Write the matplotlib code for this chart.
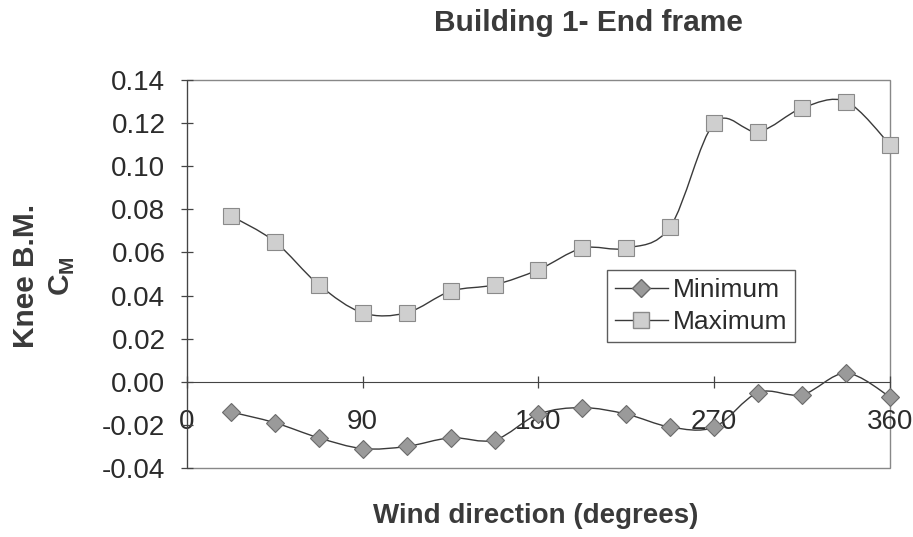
import numpy as np
import matplotlib
matplotlib.use('Agg')
import matplotlib.pyplot as plt
from matplotlib.path import Path
from matplotlib.patches import PathPatch, Rectangle
from matplotlib.lines import Line2D

plt.rcParams['font.family'] = ['Liberation Sans', 'DejaVu Sans']

# wind directions, degrees
directions = [22.5, 45, 67.5, 90, 112.5, 135, 157.5, 180,
              202.5, 225, 247.5, 270, 292.5, 315, 337.5, 360]
c_max = [0.077, 0.065, 0.045, 0.032, 0.032, 0.042, 0.045, 0.052,
         0.062, 0.062, 0.072, 0.120, 0.116, 0.127, 0.130, 0.110]
c_min = [-0.014, -0.019, -0.026, -0.031, -0.030, -0.026, -0.027, -0.015,
         -0.012, -0.015, -0.021, -0.021, -0.005, -0.006, 0.004, -0.007]
xticks = [0, 90, 180, 270, 360]
yticks = [-0.04, -0.02, 0.0, 0.02, 0.04, 0.06, 0.08, 0.10, 0.12, 0.14]

txt = '#2b2b2b'


def smooth_path(x, y, k=1 / 6):
    # excel-like smoothed line: catmull-rom as cubic bezier segments
    x = np.asarray(x, float)
    y = np.asarray(y, float)
    n = len(x)
    verts = [(x[0], y[0])]
    codes = [Path.MOVETO]
    for i in range(n - 1):
        p0 = i - 1 if i > 0 else i
        p3 = i + 2 if i + 2 < n else i + 1
        c1 = (x[i] + (x[i + 1] - x[p0]) * k, y[i] + (y[i + 1] - y[p0]) * k)
        c2 = (x[i + 1] - (x[p3] - x[i]) * k, y[i + 1] - (y[p3] - y[i]) * k)
        verts += [c1, c2, (x[i + 1], y[i + 1])]
        codes += [Path.CURVE4] * 3
    return Path(verts, codes)


fig = plt.figure(figsize=(9.13, 5.37), dpi=100)
ax = fig.add_axes([0.2048, 0.1285, 0.77, 0.7225])

ax.add_patch(PathPatch(smooth_path(directions, c_min), fill=False, edgecolor='#3a3a3a', lw=1.0, zorder=2))
ax.add_patch(PathPatch(smooth_path(directions, c_max), fill=False, edgecolor='#3a3a3a', lw=1.0, zorder=2))
ax.plot(directions, c_min, ls='none', marker='D', ms=9, mfc='#9a9a9a', mec='#6a6a6a', mew=0.8,
        zorder=3, clip_on=False)
ax.plot(directions, c_max, ls='none', marker='s', ms=11, mfc='#cfcfcf', mec='#8a8a8a', mew=0.8,
        zorder=3, clip_on=False)

ax.set_xlim(0, 360)
ax.set_ylim(-0.04, 0.14)
ax.set_xticks(xticks)
ax.set_yticks(yticks)
ax.set_yticklabels(['%.2f' % v for v in yticks])

for s in ['top', 'right']:
    ax.spines[s].set_visible(False)
ax.spines['bottom'].set_position(('data', 0))
ax.spines['bottom'].set_color('#444444')
ax.spines['left'].set_color('#444444')
ax.add_patch(Rectangle((0, 0), 1, 1, transform=ax.transAxes, fill=False,
                       edgecolor='#888888', lw=1.0, zorder=1, clip_on=False))

ax.tick_params(axis='both', direction='inout', length=9, width=0.9, color='#444444',
               labelsize=20, labelcolor=txt)
ax.tick_params(axis='x', pad=15)
ax.tick_params(axis='y', pad=11)

fig.text(588 / 913, 1 - 23 / 537, 'Building 1- End frame', ha='center', va='center',
         fontsize=21.5, fontweight='bold', color='#3a3a3a')
fig.text(536 / 913, 1 - 516 / 537, 'Wind direction (degrees)', ha='center', va='center',
         fontsize=20, fontweight='bold', color='#3a3a3a')
fig.text(26 / 913, 1 - 276 / 537, 'Knee B.M.', rotation=90, ha='center', va='center',
         fontsize=21.5, fontweight='bold', color='#3a3a3a')
fig.text(62 / 913, 1 - 276 / 537, r'C$_\mathregular{M}$', rotation=90, ha='center', va='center',
         fontsize=21.5, fontweight='bold', color='#3a3a3a')

handles = [Line2D([], [], color='#3a3a3a', lw=1.0, marker='D', ms=9, mfc='#9a9a9a', mec='#6a6a6a'),
           Line2D([], [], color='#3a3a3a', lw=1.0, marker='s', ms=11, mfc='#cfcfcf', mec='#8a8a8a')]
leg = ax.legend(handles, ['Minimum', 'Maximum'], loc='upper left',
                bbox_to_anchor=((607 - 187) / 703, 1 - (270 - 80) / 388),
                fontsize=19, frameon=True, fancybox=False, edgecolor='#333333',
                handlelength=2.0, handletextpad=0.2, borderpad=0.3, labelspacing=0.3,
                borderaxespad=0)
leg.get_frame().set_linewidth(1.0)
for t in leg.get_texts():
    t.set_color(txt)

fig.savefig('out.png', dpi=100)
